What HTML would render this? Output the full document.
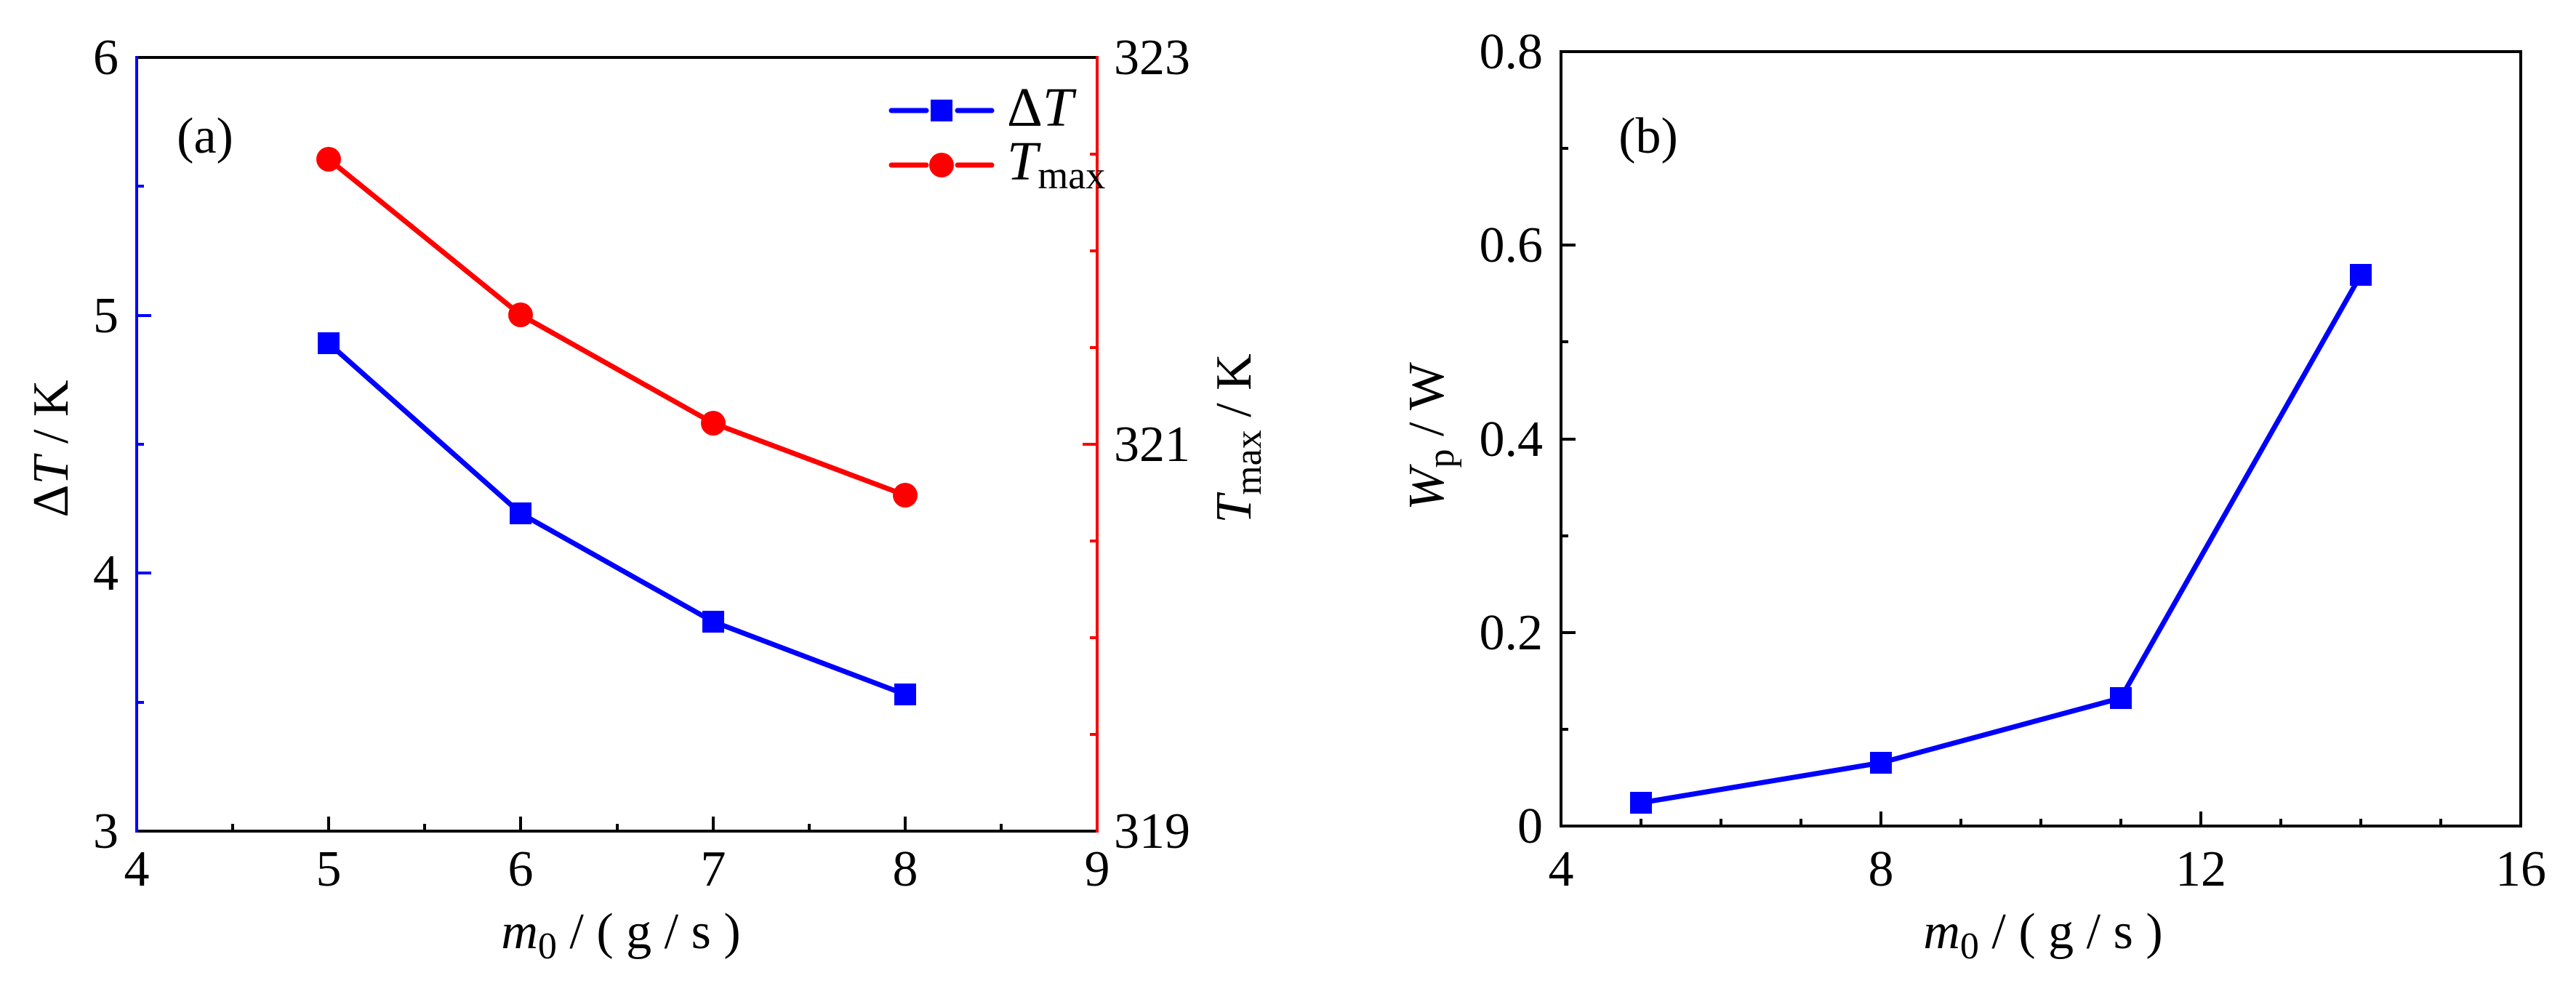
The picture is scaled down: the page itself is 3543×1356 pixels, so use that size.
<!DOCTYPE html>
<html><head><meta charset="utf-8"><style>html,body{margin:0;padding:0;background:#fff}svg{display:block}svg text{font-family:"Liberation Serif","Times New Roman",serif}</style></head>
<body>
<svg width="3543" height="1356" viewBox="0 0 3543 1356" xmlns="http://www.w3.org/2000/svg" style="font-family:'Liberation Serif',serif" font-size="70">
<rect width="3543" height="1356" fill="#fff"/>
<g stroke-width="4" fill="none">
<line x1="188" y1="79" x2="1509" y2="79" stroke="#000"/>
<line x1="188" y1="1143" x2="1509" y2="1143" stroke="#000"/>
<line x1="188" y1="77" x2="188" y2="1145" stroke="#0000ff"/>
<line x1="1509" y1="77" x2="1509" y2="1145" stroke="#ff0000"/>
</g>
<g stroke="#000" stroke-width="4">
<line x1="320" y1="1143" x2="320" y2="1133"/><line x1="452" y1="1143" x2="452" y2="1123"/>
<line x1="584" y1="1143" x2="584" y2="1133"/><line x1="716" y1="1143" x2="716" y2="1123"/>
<line x1="849" y1="1143" x2="849" y2="1133"/><line x1="981" y1="1143" x2="981" y2="1123"/>
<line x1="1113" y1="1143" x2="1113" y2="1133"/><line x1="1245" y1="1143" x2="1245" y2="1123"/>
<line x1="1377" y1="1143" x2="1377" y2="1133"/>
</g>
<g stroke="#0000ff" stroke-width="4">
<line x1="188" y1="256" x2="198" y2="256"/><line x1="188" y1="434" x2="208" y2="434"/>
<line x1="188" y1="611" x2="198" y2="611"/><line x1="188" y1="788" x2="208" y2="788"/>
<line x1="188" y1="966" x2="198" y2="966"/>
</g>
<g stroke="#ff0000" stroke-width="4">
<line x1="1509" y1="212" x2="1499" y2="212"/><line x1="1509" y1="345" x2="1499" y2="345"/>
<line x1="1509" y1="478" x2="1499" y2="478"/><line x1="1509" y1="611" x2="1489" y2="611"/>
<line x1="1509" y1="744" x2="1499" y2="744"/><line x1="1509" y1="877" x2="1499" y2="877"/>
<line x1="1509" y1="1010" x2="1499" y2="1010"/>
</g>
<g text-anchor="end">
<text x="163" y="102">6</text><text x="163" y="457">5</text><text x="163" y="811">4</text><text x="163" y="1166">3</text>
</g>
<g>
<text x="1532" y="102">323</text><text x="1532" y="634">321</text><text x="1532" y="1166">319</text>
</g>
<g text-anchor="middle">
<text x="188" y="1218">4</text><text x="452" y="1218">5</text><text x="716" y="1218">6</text>
<text x="981" y="1218">7</text><text x="1245" y="1218">8</text><text x="1509" y="1218">9</text>
</g>
<text x="282" y="210" text-anchor="middle">(a)</text>
<text transform="translate(93,617) rotate(-90)" text-anchor="middle">Δ<tspan font-style="italic">T</tspan> / K</text>
<text transform="translate(1720,603) rotate(-90)" text-anchor="middle"><tspan font-style="italic">T</tspan><tspan font-size="52" dy="14">max</tspan><tspan dy="-14"> / K</tspan></text>
<text x="854" y="1304" text-anchor="middle"><tspan font-style="italic">m</tspan><tspan font-size="52" dy="14">0</tspan><tspan dy="-14"> / ( g / s )</tspan></text>
<polyline points="452,472 716,706 981,855 1245,955" fill="none" stroke="#0000ff" stroke-width="7"/>
<polyline points="452,219 716,433 981,582 1245,681" fill="none" stroke="#ff0000" stroke-width="7"/>
<g fill="#0000ff">
<rect x="437" y="457" width="30" height="30"/><rect x="701" y="691" width="30" height="30"/>
<rect x="966" y="840" width="30" height="30"/><rect x="1230" y="940" width="30" height="30"/>
</g>
<g fill="#ff0000">
<circle cx="452" cy="219" r="17"/><circle cx="716" cy="433" r="17"/>
<circle cx="981" cy="582" r="17"/><circle cx="1245" cy="681" r="17"/>
</g>
<g stroke-width="7" stroke-linecap="round">
<line x1="1226" y1="152" x2="1274" y2="152" stroke="#0000ff"/><line x1="1317" y1="152" x2="1364" y2="152" stroke="#0000ff"/>
<line x1="1226" y1="227" x2="1274" y2="227" stroke="#ff0000"/><line x1="1317" y1="227" x2="1364" y2="227" stroke="#ff0000"/>
</g>
<rect x="1280" y="137" width="30" height="30" fill="#0000ff"/>
<circle cx="1295" cy="227" r="17" fill="#ff0000"/>
<text x="1385" y="173" font-size="76">Δ<tspan font-style="italic">T</tspan></text>
<text x="1385" y="247" font-size="76"><tspan font-style="italic">T</tspan><tspan font-size="54" dy="12">max</tspan></text>
<rect x="2147" y="71" width="1320" height="1065" fill="none" stroke="#000" stroke-width="4"/>
<g stroke="#000" stroke-width="4">
<line x1="2257" y1="1136" x2="2257" y2="1126"/><line x1="2367" y1="1136" x2="2367" y2="1126"/>
<line x1="2477" y1="1136" x2="2477" y2="1126"/><line x1="2587" y1="1136" x2="2587" y2="1116"/>
<line x1="2697" y1="1136" x2="2697" y2="1126"/><line x1="2807" y1="1136" x2="2807" y2="1126"/>
<line x1="2917" y1="1136" x2="2917" y2="1126"/><line x1="3027" y1="1136" x2="3027" y2="1116"/>
<line x1="3137" y1="1136" x2="3137" y2="1126"/><line x1="3247" y1="1136" x2="3247" y2="1126"/>
<line x1="3357" y1="1136" x2="3357" y2="1126"/>
<line x1="2147" y1="1003" x2="2157" y2="1003"/><line x1="2147" y1="870" x2="2167" y2="870"/>
<line x1="2147" y1="737" x2="2157" y2="737"/><line x1="2147" y1="604" x2="2167" y2="604"/>
<line x1="2147" y1="470" x2="2157" y2="470"/><line x1="2147" y1="337" x2="2167" y2="337"/>
<line x1="2147" y1="204" x2="2157" y2="204"/>
</g>
<g text-anchor="end">
<text x="2122" y="94">0.8</text><text x="2122" y="360">0.6</text><text x="2122" y="627">0.4</text>
<text x="2122" y="893">0.2</text><text x="2122" y="1159">0</text>
</g>
<g text-anchor="middle">
<text x="2147" y="1218">4</text><text x="2587" y="1218">8</text><text x="3027" y="1218">12</text><text x="3467" y="1218">16</text>
</g>
<text x="2267" y="210" text-anchor="middle">(b)</text>
<text transform="translate(1985,600) rotate(-90)" text-anchor="middle"><tspan font-style="italic">W</tspan><tspan font-size="52" dy="14">p</tspan><tspan dy="-14"> / W</tspan></text>
<text x="2810" y="1304" text-anchor="middle"><tspan font-style="italic">m</tspan><tspan font-size="52" dy="14">0</tspan><tspan dy="-14"> / ( g / s )</tspan></text>
<polyline points="2257,1104 2587,1049 2917,960 3247,378" fill="none" stroke="#0000ff" stroke-width="7"/>
<g fill="#0000ff">
<rect x="2242" y="1089" width="30" height="30"/><rect x="2572" y="1034" width="30" height="30"/>
<rect x="2902" y="945" width="30" height="30"/><rect x="3232" y="363" width="30" height="30"/>
</g>
</svg>
</body></html>
